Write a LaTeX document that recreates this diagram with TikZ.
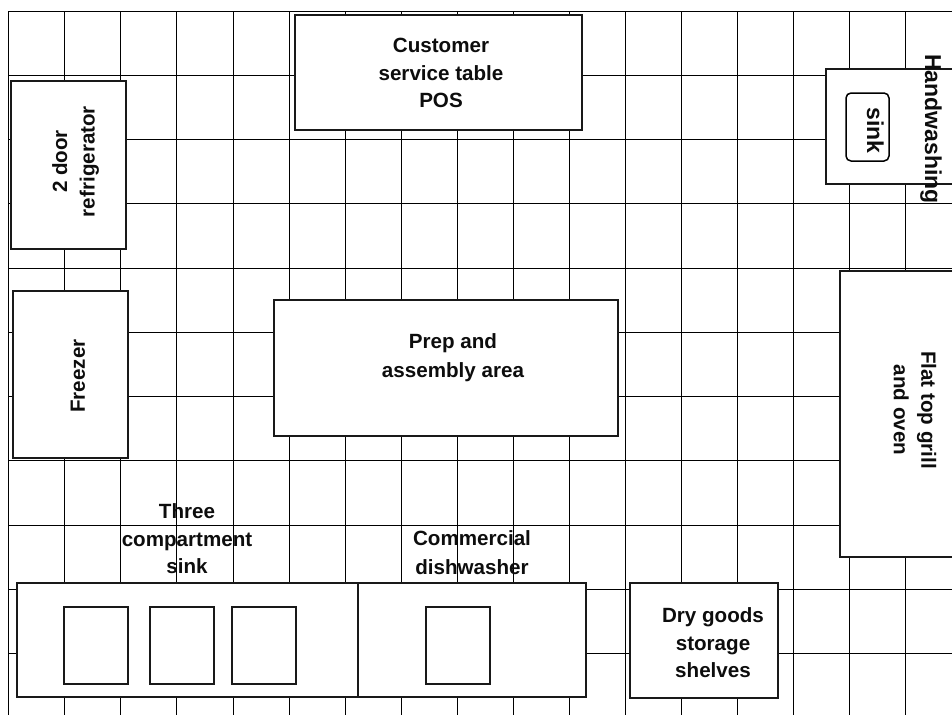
\documentclass[tikz,border=0pt]{standalone}
\usepackage{fontspec}
\setmainfont{Liberation Sans}
\tikzset{
  gridline/.style={draw=black,line width=0.85pt},
  unitbox/.style={draw=black!90,line width=1.5pt,fill=white},
  lbl/.style={font=\fontsize{20.6}{27.5}\selectfont\bfseries,align=center,inner sep=0pt,text=black!95},
  biglbl/.style={font=\fontsize{23}{27.5}\selectfont\bfseries,inner sep=0pt,text=black!95,anchor=base}
}
\begin{document}
\begin{tikzpicture}[x=1pt,y=-1pt]
\useasboundingbox (0,0) rectangle (952,715);
\clip (0,0) rectangle (952,715);
\fill[white] (0,0) rectangle (952,715);
\foreach \yy in {11,75,139,203,268,332,396,460,525,589,653}
  \draw[gridline] (8,\yy) -- (952,\yy);
\foreach \xx in {8,64,120,176,233,289,345,401,457,513,569,625,681,737,793,849,905}
  \draw[gridline] (\xx,11) -- (\xx,715);
% equipment
\draw[unitbox] (11,81) rectangle (126,249);
\draw[unitbox] (13,291) rectangle (128,458);
\draw[unitbox] (295,15) rectangle (582,130);
\draw[unitbox] (274,300) rectangle (618,436);
\draw[unitbox] (826,69) rectangle (960,184);
\draw[unitbox,draw=black,rounded corners=5pt] (846,93) rectangle (889,161);
\draw[unitbox] (840,271) rectangle (960,557);
\draw[unitbox] (17,583) rectangle (358,697);
\draw[unitbox] (358,583) rectangle (586,697);
\draw[unitbox] (64,607) rectangle (128,684);
\draw[unitbox] (150,607) rectangle (214,684);
\draw[unitbox] (232,607) rectangle (296,684);
\draw[unitbox] (426,607) rectangle (490,684);
\draw[unitbox] (630,583) rectangle (778,698);
% labels
\node[lbl,rotate=90] (fridge) at (75.5,161.5) {2 door\\refrigerator};
\node[lbl,rotate=90] (freezer) at (78,376) {Freezer};
\node[lbl] (customer) at (441,73) {Customer\\service table\\POS};
\node[lbl] (prep) at (453,358) {Prep and\\[1.5pt]assembly area};
\node[biglbl,rotate=-90] (handwash) at (925,129) {Handwashing};
\node[biglbl,rotate=-90] (sink) at (867,130.5) {sink};
\node[lbl,rotate=-90] (grill) at (915,410) {Flat top grill\\and oven};
\node[lbl] (three) at (187,539) {Three\\compartment\\sink};
\node[lbl] (dish) at (472,552.5) {Commercial\\[1pt]dishwasher};
\node[lbl] (dry) at (713,643) {Dry goods\\storage\\shelves};
\end{tikzpicture}
\end{document}
